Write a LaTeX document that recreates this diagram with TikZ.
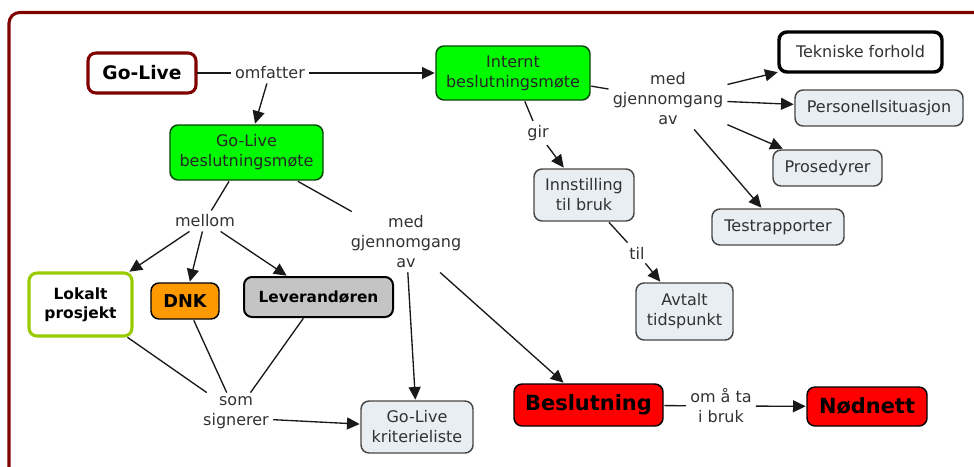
\documentclass[tikz,border=0pt]{standalone}
\usepackage{fontspec}
\setmainfont{DejaVu Sans}
\usepackage{xcolor}
\usetikzlibrary{arrows.meta,positioning}

\definecolor{framered}{RGB}{128,0,0}
\definecolor{mapgreen}{RGB}{0,250,0}
\definecolor{greenline}{RGB}{0,70,0}
\definecolor{limeline}{RGB}{153,204,0}
\definecolor{dnkorange}{RGB}{255,153,0}
\definecolor{levgray}{RGB}{196,196,196}
\definecolor{paleblue}{RGB}{233,238,243}
\definecolor{textgray}{RGB}{50,50,50}
\definecolor{boxline}{RGB}{70,70,70}

\begin{document}
\begin{tikzpicture}[
    x=0.75pt,y=-0.75pt,
    font=\fontsize{12}{15}\selectfont,
    box/.style={rectangle,rounded corners=6pt,draw=boxline,line width=1.1pt,fill=paleblue,text=textgray,align=center,inner sep=2pt,outer sep=1pt},
    meeting/.style={box,fill=mapgreen,draw=greenline,text=black!85},
    key/.style={box,text=black,draw=black},
    link/.style={text=textgray,align=center,inner sep=3pt},
    line/.style={line width=1pt,draw=black!90},
    arrow/.style={line,-{Triangle[length=9.5pt,width=9pt]}}
]
    \useasboundingbox (0,0) rectangle (974,467);
    % frame round the map
    \draw[framered,line width=2.3pt,rounded corners=8pt] (9,470) -- (9,12.5) -- (980,12.5);

    % left part
    \node[key,fill=white,draw=framered,line width=2.3pt,minimum width=81pt,minimum height=30pt,font=\fontsize{14}{17}\selectfont\bfseries] (golive) at (142,73) {Go-Live};
    \node[link] (omfatter) at (270,73) {omfatter};
    \node[meeting,minimum width=115.5pt,minimum height=40.5pt] (internt) at (513,73) {Internt\\beslutningsmøte};
    \node[meeting,minimum width=114.75pt,minimum height=41.25pt] (glmote) at (246.5,152.5) {Go-Live\\beslutningsmøte};

    \node[link] (mellom) at (205,221) {mellom};
    \node[link] (medL) at (406,242) {med\\gjennomgang\\av};

    \node[key,fill=white,draw=limeline,line width=2.3pt,minimum width=77.25pt,minimum height=47.25pt,font=\fontsize{11.6}{14.5}\selectfont\bfseries] (lokalt) at (80.5,304.5) {Lokalt\\prosjekt};
    \node[key,fill=dnkorange,minimum width=51pt,minimum height=27pt,font=\fontsize{13.3}{16}\selectfont\bfseries] (dnk) at (185,301) {DNK};
    \node[key,fill=levgray,line width=1.5pt,minimum width=111.75pt,minimum height=30pt,font=\fontsize{11.5}{14}\selectfont\bfseries] (lev) at (318.5,297) {Leverandøren};

    \node[link] (signerer) at (236,413) {som\\signerer};
    \node[box,minimum width=84pt,minimum height=39pt] (kriterie) at (417,427) {Go-Live\\kriterieliste};

    % decision
    \node[key,fill=red,minimum width=111.75pt,minimum height=31.5pt,font=\fontsize{15.7}{18}\selectfont\bfseries] (beslutning) at (588.5,405) {Beslutning};
    \node[link] (taibruk) at (721,406) {om å ta\\i bruk};
    \node[key,fill=red,minimum width=90pt,minimum height=29.25pt,font=\fontsize{15.7}{18}\selectfont\bfseries] (nodnett) at (867,406.5) {Nødnett};

    % right part
    \node[link] (gir) at (538,133) {gir};
    \node[box,minimum width=75pt,minimum height=39pt] (innstilling) at (584,195) {Innstilling\\til bruk};
    \node[link] (til) at (637,253) {til};
    \node[box,minimum width=72.75pt,minimum height=42.75pt] (avtalt) at (684.5,311.5) {Avtalt\\tidspunkt};

    \node[link] (medR) at (668,99) {med\\gjennomgang\\av};
    \node[box,fill=white,draw=black,line width=2.6pt,minimum width=122.25pt,minimum height=30pt] (tekniske) at (860.5,52) {Tekniske forhold};
    \node[box,minimum width=126pt,minimum height=27pt] (personell) at (879,108) {Personellsituasjon};
    \node[box,minimum width=81.75pt,minimum height=27pt] (prosedyrer) at (827.5,168) {Prosedyrer};
    \node[box,minimum width=99pt,minimum height=27pt] (testrapp) at (778,227) {Testrapporter};

    \draw[line] (golive) -- (omfatter);
    \draw[arrow] (omfatter) -- (internt);
    \draw[arrow] (omfatter) -- (glmote);
    \draw[line] (glmote) -- (mellom);
    \draw[arrow] (mellom) -- (lokalt);
    \draw[arrow] (mellom) -- (dnk);
    \draw[arrow] (mellom) -- (lev);
    \draw[line] (glmote) -- (medL);
    \draw[arrow] (medL) -- (kriterie);
    \draw[arrow] (medL) -- (beslutning);
    \draw[line] (lokalt) -- (signerer);
    \draw[line] (dnk) -- (signerer);
    \draw[line] (lev) -- (signerer);
    \draw[arrow] ([yshift=-5pt]signerer.east) -- (kriterie);
    \draw[line] (beslutning) -- (taibruk);
    \draw[arrow] (taibruk) -- (nodnett);

    \draw[line] (internt) -- (gir);
    \draw[arrow] (gir) -- (innstilling);
    \draw[line] (innstilling) -- (til);
    \draw[arrow] (til) -- (avtalt);
    \draw[line] (internt) -- (medR);
    \draw[arrow] (medR) -- (tekniske);
    \draw[arrow] (medR) -- (personell);
    \draw[arrow] (medR) -- (prosedyrer);
    \draw[arrow] (medR) -- (testrapp);
\end{tikzpicture}
\end{document}
